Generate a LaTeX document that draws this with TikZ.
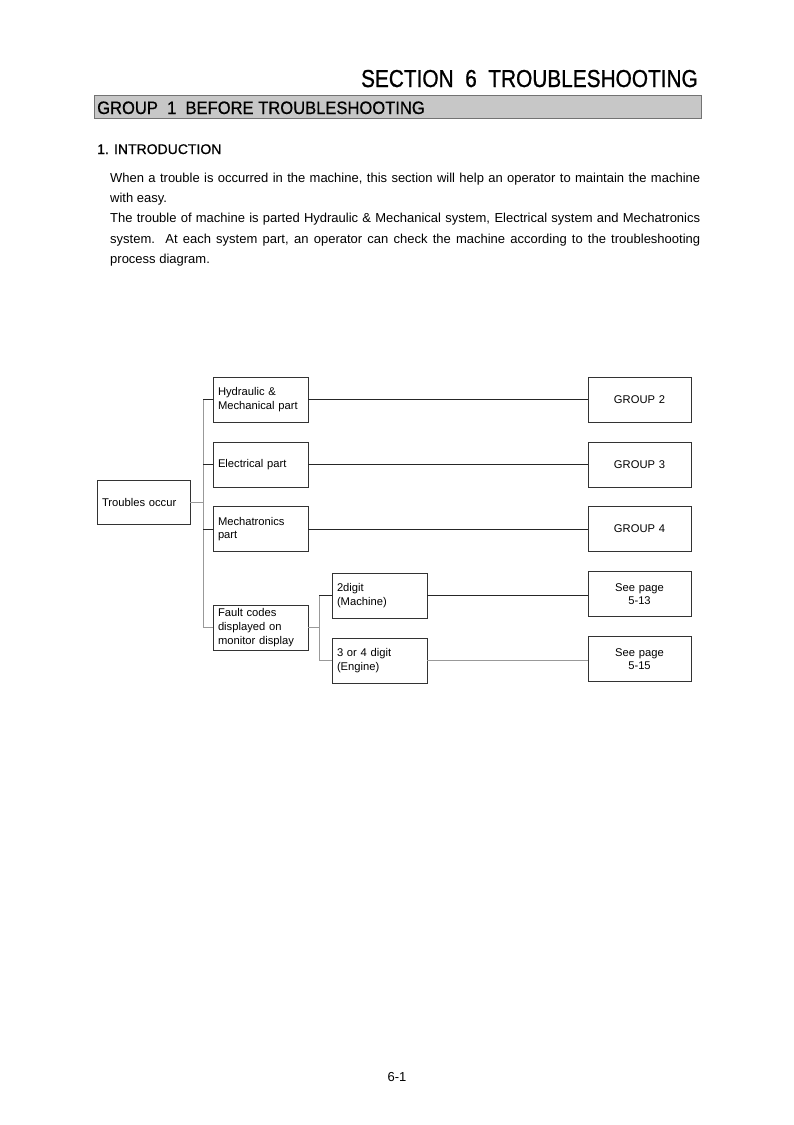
\documentclass[tikz,border=0pt]{standalone}
\usepackage{fontspec}
\setmainfont{Liberation Sans}
\newfontfamily\headfont[FakeBold=0.9]{Liberation Sans}
\newfontfamily\subheadfont[FakeBold=0.6]{Liberation Sans}
\usepackage{graphicx}
\begin{document}
\begin{tikzpicture}[x=1pt,y=-1pt,
  boxline/.style={draw=black!80, line width=0.9pt},
  lbox/.style={boxline, align=left, text width=85pt, minimum width=95pt, minimum height=45pt, inner xsep=5pt, inner ysep=2pt,
    font=\fontsize{11.2}{13.6}\selectfont},
  cbox/.style={boxline, align=center, text width=95pt, minimum width=103pt, minimum height=45pt, inner xsep=4pt, inner ysep=2pt,
    font=\fontsize{11.2}{13.6}\selectfont},
  conn/.style={draw=black!85, line width=0.7pt},
  bus/.style={draw=black!40, line width=0.9pt},
  para/.style={anchor=base west, inner sep=0pt, font=\fontsize{13}{16}\selectfont}
]
\useasboundingbox (0,0) rectangle (794,1125);
\fill[white] (0,0) rectangle (794,1125);

% header
\node[anchor=base east, inner sep=0pt, font=\headfont\fontsize{24.5}{28}\selectfont] (title) at (698,87)
  {\scalebox{0.85}[1]{SECTION\ \ 6\ \ TROUBLESHOOTING}};
\draw[fill=black!22, draw=black!55, line width=0.8pt] (94,95) rectangle (701,118);
\node[anchor=base west, inner sep=0pt, font=\subheadfont\fontsize{18}{20}\selectfont] (group) at (97,114)
  {\scalebox{0.92}[1]{GROUP\ \ 1\ \ BEFORE TROUBLESHOOTING}};
\node[anchor=base west, inner sep=0pt, font=\subheadfont\fontsize{14}{16}\selectfont] (intro) at (97,154)
  {1. INTRODUCTION};

% paragraph
\node[para] (l1) at (110,182) {\makebox[590pt][s]{When a trouble is occurred in the machine, this section will help an operator to maintain the machine}};
\node[para] (l2) at (110,202) {with easy.};
\node[para] (l3) at (110,222) {\makebox[590pt][s]{The trouble of machine is parted Hydraulic \& Mechanical system, Electrical system and Mechatronics}};
\node[para] (l4) at (110,243) {\makebox[590pt][s]{system.\ \ At each system part, an operator can check the machine according to the troubleshooting}};
\node[para] (l5) at (110,263) {process diagram.};

% diagram
\node[lbox, text width=83pt, minimum width=93pt, minimum height=44pt] (trouble) at (143.5,502) {Troubles occur};
\node[lbox] (hyd) at (260.5,399.5) {Hydraulic \&\\Mechanical part};
\node[lbox] (elec) at (260.5,464.5) {Electrical part};
\node[lbox] (mech) at (260.5,529) {Mechatronics\\part};
\node[lbox] (fault) at (260.5,627.5) {Fault codes\\displayed on\\monitor display};
\node[lbox] (two) at (379.5,595.5) {2digit\\(Machine)};
\node[lbox] (three) at (379.5,660.5) {3 or 4 digit\\(Engine)};

\node[cbox] (g2) at (639.5,399.5) {GROUP 2};
\node[cbox] (g3) at (639.5,464.5) {GROUP 3};
\node[cbox] (g4) at (639.5,529) {GROUP 4};
\node[cbox] (p13) at (639.5,594) {See page\\5-13};
\node[cbox] (p15) at (639.5,659) {See page\\5-15};

\coordinate (b1) at (203,399.5);
\coordinate (b2) at (203,627.5);
\coordinate (bt) at (203,502);
\coordinate (c1) at (319,595.5);
\coordinate (c2) at (319,660.5);
\coordinate (cf) at (319,627.5);

\draw[bus] (b1) -- (b2);
\draw[bus] (trouble.east) -- (bt);
\draw[conn] (b1) -- (hyd.west);
\draw[conn] (203,464.5) -- (elec.west);
\draw[conn] (203,529) -- (mech.west);
\draw[bus] (b2) -- (fault.west);
\draw[bus] (c1) -- (c2);
\draw[bus] (fault.east) -- (cf);
\draw[conn] (c1) -- (two.west);
\draw[bus] (c2) -- (three.west);

\draw[conn] (hyd.east) -- (g2.west);
\draw[conn] (elec.east) -- (g3.west);
\draw[conn] (mech.east) -- (g4.west);
\draw[conn] (two.east) -- (two.east -| p13.west);
\draw[bus] (three.east) -- (three.east -| p15.west);

\node[anchor=base, inner sep=0pt, font=\fontsize{13}{15}\selectfont] (pg) at (397,1081) {6-1};
\end{tikzpicture}
\end{document}
